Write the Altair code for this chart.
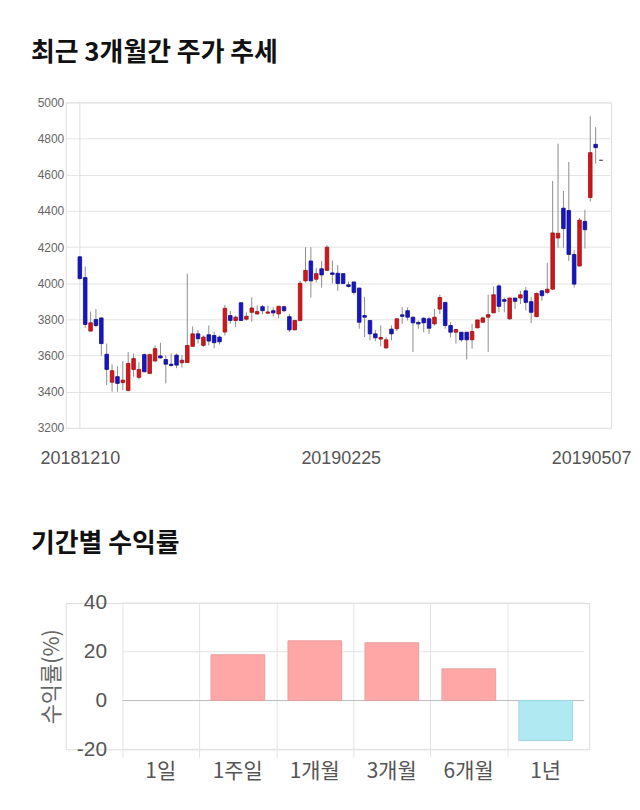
import altair as alt
import pandas as pd
import numpy as np

# ---- candlestick data ----
opens = [4146, 4031, 3735, 3799, 3808, 3607, 3452, 3483, 3450, 3406,
         3523, 3479, 3605, 3501, 3570, 3598, 3578, 3552, 3602, 3560,
         3561, 3651, 3720, 3656, 3715, 3711, 3702, 3730, 3821, 3794,
         3892, 3801, 3839, 3830, 3870, 3834, 3848, 3830, 3870, 3815,
         3742, 3794, 4013, 4123, 4022, 4080, 4071, 4057, 4055, 4053,
         3991, 4007, 3973, 3821, 3794, 3720, 3691, 3642, 3746, 3748,
         3825, 3848, 3812, 3783, 3806, 3803, 3775, 3857, 3894, 3766,
         3729, 3729, 3729, 3687, 3753, 3784, 3812, 3836, 3985, 3909,
         3803, 3918, 3918, 3958, 3898, 3815, 3958, 3949, 3967, 4250,
         4415, 4402, 4159, 4095, 4342, 4474, 4768, 4680]
highs = [4150, 4092, 3843, 3857, 3808, 3666, 3552, 3541, 3569, 3620,
         3611, 3565, 3611, 3611, 3656, 3671, 3602, 3611, 3611, 3602,
         4053, 3761, 3741, 3711, 3766, 3733, 3711, 3880, 3848, 3821,
         3892, 3839, 3922, 3876, 3880, 3876, 3867, 3876, 3876, 3830,
         3797, 4013, 4199, 4199, 4085, 4123, 4210, 4126, 4100, 4053,
         4009, 4007, 3976, 3925, 3794, 3742, 3766, 3702, 3766, 3803,
         3867, 3867, 3815, 3794, 3812, 3812, 3858, 3936, 3894, 3784,
         3748, 3729, 3729, 3775, 3797, 3815, 3936, 3982, 3994, 3921,
         3921, 3918, 3958, 3980, 3925, 3949, 3962, 4113, 4565, 4772,
         4510, 4671, 4181, 4360, 4406, 4923, 4863, 4680]
lows = [4020, 3753, 3735, 3757, 3598, 3437, 3400, 3400, 3410, 3406,
        3483, 3468, 3510, 3501, 3565, 3583, 3446, 3538, 3530, 3534,
        3561, 3651, 3666, 3648, 3656, 3639, 3661, 3711, 3776, 3758,
        3794, 3794, 3788, 3825, 3828, 3834, 3816, 3806, 3839, 3729,
        3739, 3794, 4004, 3921, 4004, 3976, 4068, 3998, 3958, 3998,
        3976, 3936, 3748, 3702, 3684, 3680, 3651, 3638, 3684, 3735,
        3775, 3794, 3620, 3748, 3729, 3720, 3766, 3829, 3748, 3700,
        3666, 3676, 3578, 3638, 3753, 3784, 3620, 3836, 3839, 3839,
        3797, 3858, 3885, 3849, 3779, 3812, 3903, 3940, 3963, 4196,
        4196, 4123, 3976, 4095, 4192, 4452, 4662, 4680]
closes = [4026, 3772, 3781, 3766, 3666, 3523, 3516, 3446, 3464, 3556,
          3583, 3523, 3510, 3605, 3638, 3587, 3552, 3545, 3547, 3574,
          3656, 3720, 3693, 3702, 3680, 3671, 3676, 3861, 3794, 3812,
          3794, 3817, 3863, 3843, 3848, 3841, 3836, 3872, 3848, 3742,
          3794, 4000, 4071, 4013, 4053, 4046, 4199, 4049, 3998, 3998,
          3982, 3949, 3784, 3812, 3720, 3698, 3700, 3687, 3720, 3803,
          3817, 3812, 3781, 3775, 3781, 3751, 3812, 3921, 3766, 3729,
          3744, 3687, 3687, 3733, 3797, 3808, 3826, 3936, 3872, 3900,
          3918, 3900, 3936, 3894, 3839, 3943, 3931, 3967, 4278, 4276,
          4302, 4159, 3995, 4349, 4296, 4722, 4750, 4680]
date_labels = ["20181210", "20190225", "20190507"]
price_ticks = [3200, 3400, 3600, 3800, 4000, 4200, 4400, 4600, 4800, 5000]

# ---- period returns ----
periods = ["1일", "1주일", "1개월", "3개월", "6개월", "1년"]
returns = [0.0, 18.8, 24.5, 23.7, 13.0, -16.4]
ret_ticks = [-20, 0, 20, 40]

FONT = "Liberation Sans, Noto Sans CJK KR, sans-serif"
KFONT = "Noto Sans CJK KR"
GRID = "#e4e4e4"

# ================= top: candlestick =================
n = len(opens)
o = np.array(opens); c = np.array(closes)
df = pd.DataFrame({
    "i": np.arange(n),
    "open": opens, "high": highs, "low": lows, "close": closes,
    "dir": np.where(c > o, "up", np.where(c < o, "down", "flat")),
})

last = n - 1
xscale = alt.Scale(domain=[-1.7, last + 0.95], nice=False, zero=False)
yscale = alt.Scale(domain=[price_ticks[0], price_ticks[-1]], nice=False, zero=False)

label_expr = ("datum.value == 0 ? '%s' : datum.value == %d ? '%s' : '%s'"
              % (date_labels[0], last, date_labels[2], date_labels[1]))

xaxis = alt.Axis(values=[0, 48, last], labelExpr=label_expr, grid=False, ticks=False,
                 domain=False, labelFontSize=18, labelColor="#555555", labelPadding=22,
                 labelFont=FONT, title=None, labelFlush=False, labelOverlap=False,
                 labelOffset={"condition": [{"test": "datum.value == 0", "value": 0},
                                            {"test": "datum.value > 90", "value": -10}],
                              "value": 3})
yaxis = alt.Axis(values=price_ticks, format="d", grid=True, gridColor=GRID, ticks=False,
                 domain=False, labelFontSize=12, labelColor="#666666", labelPadding=2,
                 labelFont=FONT, title=None)

X = alt.X("i:Q", scale=xscale, axis=xaxis)

wicks = alt.Chart(df).mark_rule(color="#8c8c8c", strokeWidth=1).encode(
    x=X, y=alt.Y("low:Q", scale=yscale, axis=yaxis), y2="high:Q")

bodies = alt.Chart(df).mark_bar(size=3.6, strokeWidth=0.8).encode(
    x=X, y=alt.Y("open:Q", scale=yscale, axis=yaxis), y2="close:Q",
    fill=alt.Color("dir:N", scale=alt.Scale(domain=["up", "down", "flat"],
                                            range=["#d2161c", "#1616c6", "#555555"]), legend=None),
    stroke=alt.Stroke("dir:N", scale=alt.Scale(domain=["up", "down", "flat"],
                                               range=["#9a1010", "#0c0c88", "#444444"]), legend=None),
)

vline = alt.Chart(pd.DataFrame({"i": [0], "lo": [price_ticks[0]], "hi": [price_ticks[-1]]})
                  ).mark_rule(color="#dddddd", strokeWidth=1).encode(
    x=X, y=alt.Y("lo:Q", scale=yscale, axis=yaxis), y2="hi:Q")

top = alt.layer(vline, wicks, bodies).properties(
    width=548, height=327,
    title=alt.TitleParams("최근 3개월간 주가 추세", anchor="start", frame="group", font=KFONT,
                          fontSize=26, fontWeight="bold", color="#111111", offset=31, dx=-35),
)

# ================= bottom: period returns =================
m = len(periods)
df2 = pd.DataFrame({"idx": np.arange(m), "period": periods, "ret": returns})
df2["c"] = df2["idx"] + 0.5
df2["sign"] = np.where(df2["ret"] >= 0, "pos", "neg")

bxscale = alt.Scale(domain=[-0.672, m], nice=False, zero=False)
byscale = alt.Scale(domain=[ret_ticks[0], ret_ticks[-1]], nice=False)

period_expr = "[" + ",".join("'%s'" % p for p in periods) + "][datum.value]"
bxaxis = alt.Axis(values=list(range(m)), labelExpr=period_expr, labelOffset=38,
                  labelFlush=False, labelOverlap=False, title=None, labelAngle=0,
                  labelFontSize=21, labelColor="#555555", labelFont=KFONT,
                  grid=True, gridColor=GRID, ticks=True, tickSize=8, tickColor=GRID,
                  domain=False, labelPadding=3)
byaxis = alt.Axis(values=ret_ticks, labelExpr="'' + datum.value", grid=False,
                  title="수익률(%)", titleFontSize=22, titleColor="#666666",
                  titleFontWeight="normal", titleFont=KFONT,
                  labelFontSize=21, labelColor="#555555", labelFont=FONT,
                  ticks=False, domain=False, labelPadding=12, titlePadding=13, offset=-53)

BX = alt.X("c:Q", scale=bxscale, axis=bxaxis)

grid_df = pd.DataFrame({"v": ret_ticks, "x0": [0] * len(ret_ticks), "x1": [m] * len(ret_ticks)})
grid_df["z"] = np.where(grid_df["v"] == 0, "zero", "grid")
hgrid = alt.Chart(grid_df).mark_rule(strokeWidth=1).encode(
    x=alt.X("x0:Q", scale=bxscale, axis=bxaxis), x2="x1:Q",
    y=alt.Y("v:Q", scale=byscale, axis=byaxis),
    color=alt.Color("z:N", scale=alt.Scale(domain=["grid", "zero"], range=[GRID, "#bbbbbb"]),
                    legend=None),
)

bars = alt.Chart(df2).mark_bar(size=54, strokeWidth=1).encode(
    x=BX,
    y=alt.Y("ret:Q", scale=byscale, axis=byaxis),
    fill=alt.Color("sign:N", scale=alt.Scale(domain=["pos", "neg"], range=["#ffa6a6", "#b1e9f2"]),
                   legend=None),
    stroke=alt.Stroke("sign:N", scale=alt.Scale(domain=["pos", "neg"], range=["#e9a0a0", "#9fd6e0"]),
                      legend=None),
    strokeOpacity=alt.condition(alt.datum.ret == 0, alt.value(0), alt.value(1)),
)

bottom = alt.layer(hgrid, bars).resolve_scale(color="independent").properties(
    width=526, height=147,
    title=alt.TitleParams("기간별 수익률", anchor="start", frame="group", font=KFONT,
                          fontSize=26, fontWeight="bold", color="#111111", offset=35, dx=-35),
)

chart = alt.vconcat(top, bottom, spacing=62).resolve_scale(
    fill="independent", stroke="independent", color="independent"
).properties(
    padding={"left": 22, "top": 29, "right": 0, "bottom": 0}
).configure_view(stroke=None).configure(font=FONT)

chart.save("out.html", embed_options={"renderer": "svg", "actions": False})
